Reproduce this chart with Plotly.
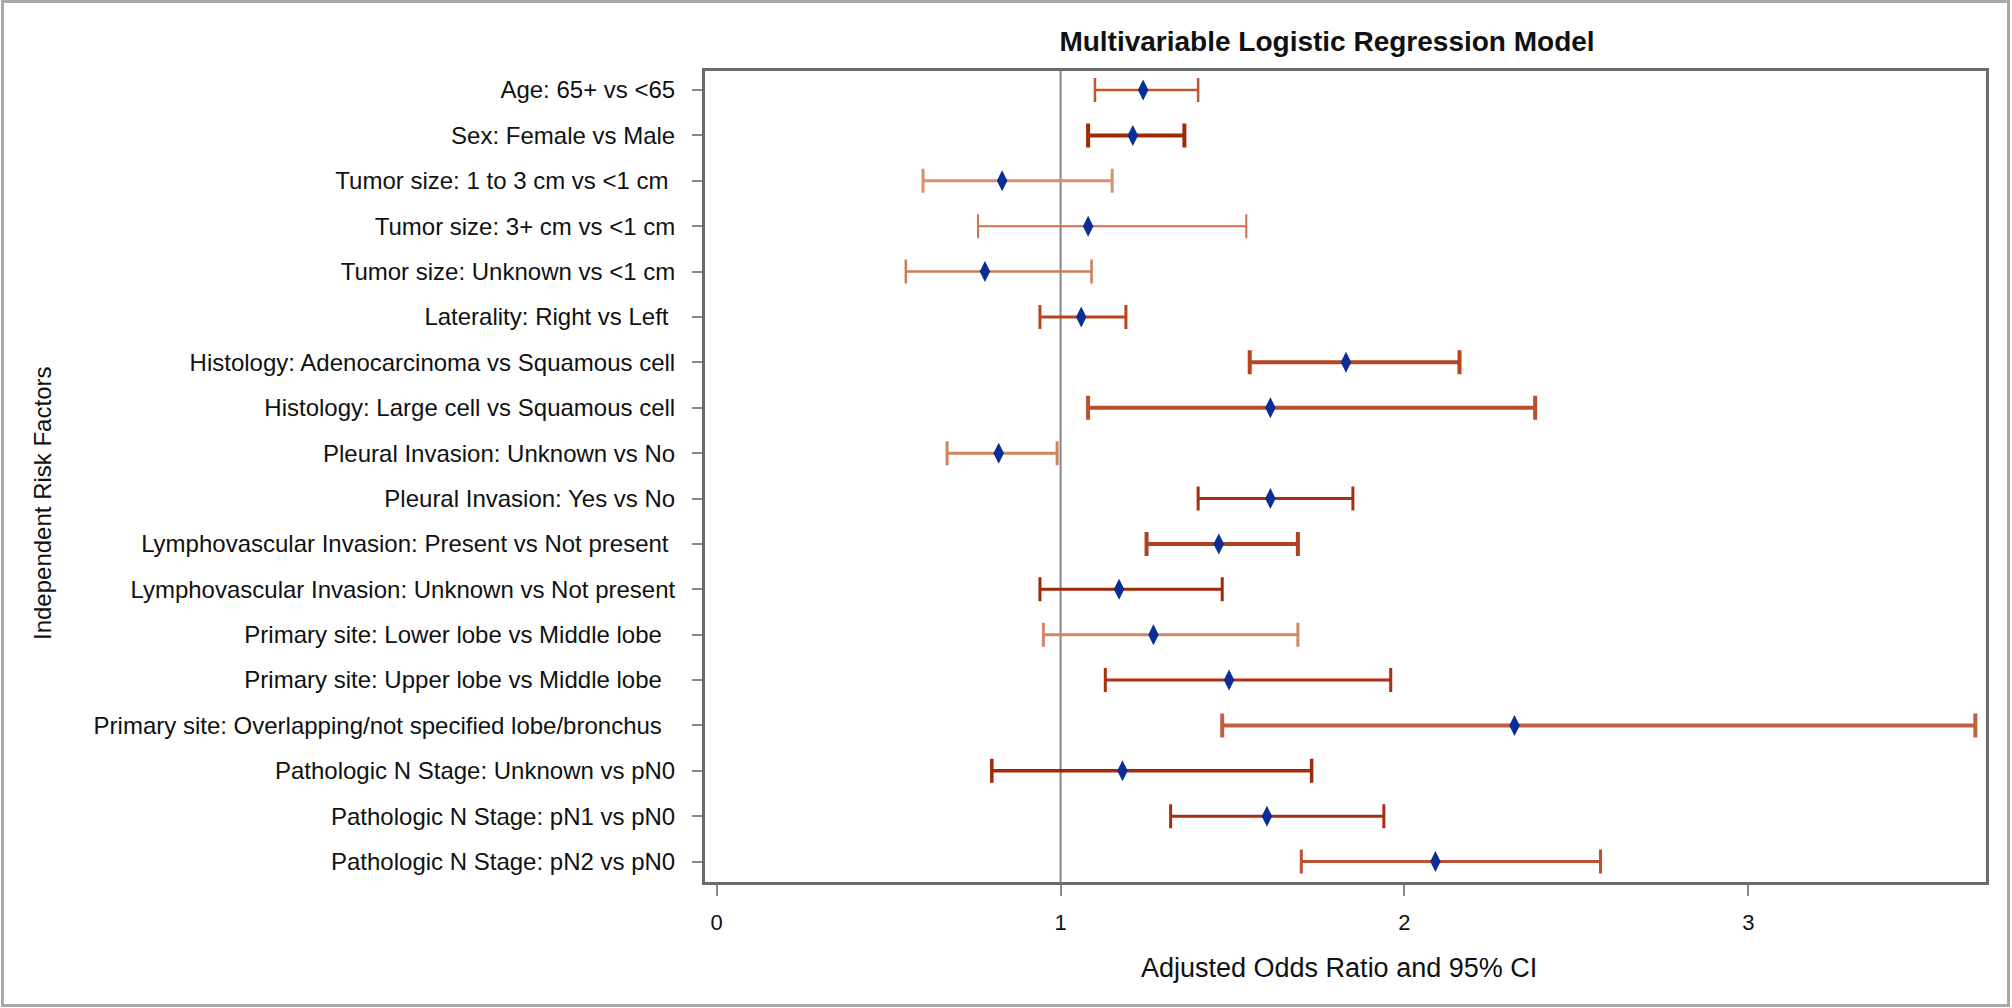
import plotly.graph_objects as go

# ---- data ----
factors = [
    "Age: 65+ vs <65",
    "Sex: Female vs Male",
    "Tumor size: 1 to 3 cm vs <1 cm\u00a0",
    "Tumor size: 3+ cm vs <1 cm",
    "Tumor size: Unknown vs <1 cm",
    "Laterality: Right vs Left\u00a0",
    "Histology: Adenocarcinoma vs Squamous cell",
    "Histology: Large cell vs Squamous cell",
    "Pleural Invasion: Unknown vs No",
    "Pleural Invasion: Yes vs No",
    "Lymphovascular Invasion: Present vs Not present\u00a0",
    "Lymphovascular Invasion: Unknown vs Not present",
    "Primary site: Lower lobe vs Middle lobe\u00a0\u00a0",
    "Primary site: Upper lobe vs Middle lobe\u00a0\u00a0",
    "Primary site: Overlapping/not specified lobe/bronchus\u00a0\u00a0",
    "Pathologic N Stage: Unknown vs pN0",
    "Pathologic N Stage: pN1 vs pN0",
    "Pathologic N Stage: pN2 vs pN0",
]
odds_ratio = [1.24, 1.21, 0.83, 1.08, 0.78, 1.06, 1.83, 1.61, 0.82, 1.61,
              1.46, 1.17, 1.27, 1.49, 2.32, 1.18, 1.60, 2.09]
ci_lower = [1.10, 1.08, 0.60, 0.76, 0.55, 0.94, 1.55, 1.08, 0.67, 1.40,
            1.25, 0.94, 0.95, 1.13, 1.47, 0.80, 1.32, 1.70]
ci_upper = [1.40, 1.36, 1.15, 1.54, 1.09, 1.19, 2.16, 2.38, 0.99, 1.85,
            1.69, 1.47, 1.69, 1.96, 3.66, 1.73, 1.94, 2.57]
x_ticks = [0, 1, 2, 3]

# ---- styles (per row) ----
ci_colors = ["#C0562E", "#9E2A08", "#D9906C", "#CC7050", "#D07A58", "#B84520",
             "#B84520", "#B85030", "#CF8460", "#A83010", "#B04020", "#A02A08",
             "#D08866", "#A83010", "#C06040", "#A02A08", "#A83010", "#C05030"]
ci_widths = [2.5, 4, 3, 2, 2.5, 3, 4, 4, 3, 3, 4, 3, 3, 3, 4, 3.5, 3, 3]

W, H = 2012, 1008
L, R, T, B = 705, 1986, 71, 882  # plot area in pixels

fig = go.Figure()
for i, name in enumerate(factors):
    fig.add_trace(go.Scatter(
        x=[odds_ratio[i]], y=[name], mode="markers",
        marker=dict(symbol="diamond-tall", size=15, color="#0A2E96",
                    line=dict(width=0)),
        error_x=dict(type="data", symmetric=False,
                     array=[ci_upper[i] - odds_ratio[i]],
                     arrayminus=[odds_ratio[i] - ci_lower[i]],
                     color=ci_colors[i], thickness=ci_widths[i], width=12),
        showlegend=False, hoverinfo="skip",
    ))

def px_x(px):
    return (px - L) / (R - L)

def px_y(py):
    return (B - py) / (B - T)

fig.update_layout(
    width=W, height=H,
    margin=dict(l=L, r=W - R, t=T, b=H - B, autoexpand=False),
    paper_bgcolor="white", plot_bgcolor="white",
    font=dict(family="Liberation Sans, Arial, sans-serif", size=24, color="#111111"),
    title=dict(text="<b>Multivariable Logistic Regression Model</b>",
               font=dict(family="Liberation Sans Narrow, Arial Narrow, Liberation Sans, sans-serif",
                         size=28, color="#111111"),
               xref="container", yref="container",
               x=1327 / W, y=1 - 41 / H, xanchor="center", yanchor="middle"),
    xaxis=dict(range=[-0.034, 3.691], tickvals=x_ticks, ticktext=[str(v) for v in x_ticks],
               showgrid=False, zeroline=False, showline=True, mirror=True,
               linecolor="#6b6b6b", linewidth=3, ticks="outside", ticklen=11,
               tickwidth=2, tickcolor="#8a8a8a", ticklabelstandoff=8,
               tickfont=dict(size=22)),
    yaxis=dict(type="category", categoryorder="array", categoryarray=factors,
               range=[len(factors) - 1 + 0.45, -0.42],
               showgrid=False, zeroline=False, showline=True, mirror=True,
               linecolor="#6b6b6b", linewidth=3, ticks="outside", ticklen=10,
               tickwidth=2, tickcolor="#8a8a8a", ticklabelstandoff=12,
               tickfont=dict(size=24)),
    shapes=[
        dict(type="line", xref="x", yref="paper", x0=1, x1=1, y0=0, y1=1,
             line=dict(color="#858585", width=2), layer="below"),
        dict(type="rect", xref="paper", yref="paper",
             x0=px_x(2.5), x1=px_x(2008.5), y0=px_y(1005.5), y1=px_y(1.5),
             line=dict(color="#a8a8a8", width=3), layer="below"),
    ],
    annotations=[
        dict(text="Independent Risk Factors", xref="paper", yref="paper",
             x=px_x(42), y=px_y(504), textangle=-90, showarrow=False,
             xanchor="center", yanchor="middle", font=dict(size=24)),
        dict(text="Adjusted Odds Ratio and 95% CI", xref="paper", yref="paper",
             x=px_x(1339), y=px_y(968), showarrow=False,
             xanchor="center", yanchor="middle", font=dict(size=27)),
    ],
)

fig.write_html("out.html", config={"displayModeBar": False},
               post_script="document.body.style.margin='0';document.body.style.overflow='hidden';")
